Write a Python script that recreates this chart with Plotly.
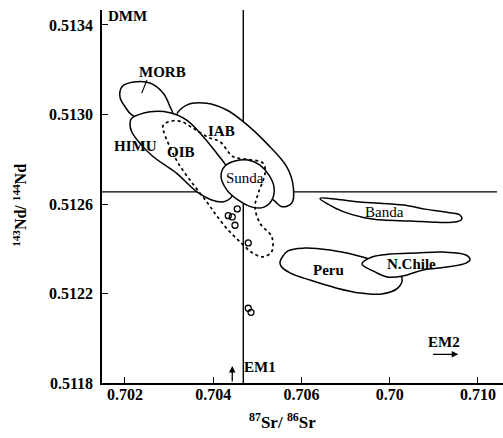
import plotly.graph_objects as go

# ---- axis / ticks ----
x_range = [0.701479, 0.710567]
y_range = [0.5118, 0.513467]
x_ticks = [0.702, 0.704, 0.706, 0.708, 0.710]
x_ticktext = ["0.702", "0.704", "0.706", "0.70", "0.710"]
y_ticks = [0.5118, 0.5122, 0.5126, 0.5130, 0.5134]
y_ticktext = ["0.5118", "0.5122", "0.5126", "0.5130", "0.5134"]

# DMM reference lines
dmm_sr = 0.704681
dmm_nd = 0.512654
hline_end = 0.710431

# ---- field outlines (87Sr/86Sr, 143Nd/144Nd) ----
morb_sr = [0.701887, 0.701932, 0.702188, 0.702567, 0.702868, 0.703020, 0.703081, 0.702793, 0.702567, 0.702152, 0.702000, 0.701887]
morb_nd = [0.513078, 0.513124, 0.513145, 0.513141, 0.513095, 0.513035, 0.512998, 0.512975, 0.512966, 0.512998, 0.513035, 0.513078]

iab_sr = [0.703172, 0.703398, 0.703852, 0.704305, 0.704681, 0.705211, 0.705664, 0.705814, 0.705778, 0.705551, 0.705361, 0.704946, 0.704266, 0.703586, 0.703246, 0.703172]
iab_nd = [0.512998, 0.513042, 0.513050, 0.513020, 0.512968, 0.512871, 0.512767, 0.512677, 0.512603, 0.512588, 0.512618, 0.512662, 0.512743, 0.512908, 0.512966, 0.512998]

himu_sr = [0.702113, 0.702152, 0.702567, 0.703020, 0.703398, 0.703774, 0.704078, 0.704305, 0.704493, 0.704418, 0.704228, 0.703965, 0.703625, 0.703172, 0.702641, 0.702340, 0.702152, 0.702113]
himu_nd = [0.512961, 0.512983, 0.513012, 0.513008, 0.512975, 0.512901, 0.512827, 0.512767, 0.512685, 0.512633, 0.512610, 0.512618, 0.512655, 0.512737, 0.512811, 0.512871, 0.512923, 0.512961]

sunda_sr = [0.704176, 0.704266, 0.704493, 0.704788, 0.705059, 0.705263, 0.705377, 0.705331, 0.705150, 0.704878, 0.704561, 0.704311, 0.704176]
sunda_nd = [0.512725, 0.512770, 0.512792, 0.512797, 0.512774, 0.512729, 0.512676, 0.512618, 0.512586, 0.512586, 0.512618, 0.512662, 0.512725]

oib_sr = [0.702868, 0.703058, 0.703285, 0.703548, 0.703888, 0.704153, 0.704454, 0.704758, 0.705134, 0.705173, 0.705021, 0.704946, 0.705059, 0.705325, 0.705325, 0.705134, 0.704908, 0.704606, 0.704305, 0.704040, 0.703852, 0.703530, 0.703208, 0.702981, 0.702868, 0.702868]
oib_nd = [0.512953, 0.512971, 0.512968, 0.512938, 0.512898, 0.512878, 0.512811, 0.512800, 0.512782, 0.512737, 0.512648, 0.512588, 0.512514, 0.512454, 0.512387, 0.512364, 0.512379, 0.512431, 0.512491, 0.512558, 0.512610, 0.512692, 0.512782, 0.512871, 0.512931, 0.512953]

banda_sr = [0.706419, 0.706798, 0.707251, 0.707779, 0.708307, 0.708837, 0.709365, 0.709592, 0.709631, 0.709517, 0.709064, 0.708459, 0.707854, 0.707401, 0.706947, 0.706571, 0.706419]
banda_nd = [0.512625, 0.512621, 0.512610, 0.512603, 0.512595, 0.512576, 0.512561, 0.512551, 0.512532, 0.512521, 0.512518, 0.512524, 0.512528, 0.512540, 0.512566, 0.512603, 0.512625]

peru_sr = [0.705513, 0.705694, 0.706079, 0.706646, 0.707212, 0.707598, 0.708051, 0.708278, 0.708187, 0.707824, 0.707326, 0.706782, 0.706193, 0.705739, 0.705535, 0.705513]
peru_nd = [0.512341, 0.512390, 0.512403, 0.512394, 0.512372, 0.512350, 0.512314, 0.512269, 0.512225, 0.512198, 0.512202, 0.512225, 0.512260, 0.512292, 0.512323, 0.512341]

nchile_sr = [0.707371, 0.707598, 0.708006, 0.708618, 0.709207, 0.709728, 0.709819, 0.709728, 0.709297, 0.708754, 0.708300, 0.707938, 0.707620, 0.707371]
nchile_nd = [0.512332, 0.512363, 0.512376, 0.512381, 0.512385, 0.512372, 0.512350, 0.512336, 0.512318, 0.512305, 0.512278, 0.512274, 0.512301, 0.512332]

# sample points (open circles)
pts_sr = [0.704545, 0.704341, 0.704431, 0.704493, 0.704794, 0.704794, 0.704856]
pts_nd = [0.512578, 0.512548, 0.512542, 0.512505, 0.512426, 0.512134, 0.512116]

# labels
labels = ["MORB", "HIMU", "OIB", "IAB", "Sunda", "Banda", "Peru", "N.Chile", "EM2"]
label_sr = [0.702861, 0.702249, 0.703269, 0.704176, 0.704720, 0.707870, 0.706623, 0.708504, 0.709230]
label_nd = [0.513190, 0.512859, 0.512832, 0.512926, 0.512714, 0.512564, 0.512305, 0.512332, 0.511983]
label_bold = [True, True, True, True, False, False, True, True, True]

dmm_label = ("DMM", 0.701569, 0.513440)
em1_label = ("EM1", 0.704652, 0.511872)
morb_leader_sr = [0.702499, 0.702378]
morb_leader_nd = [0.513154, 0.513095]
em1_arrow = (0.704431, 0.5118, 0.511876)
em2_arrow = (0.708950, 0.709553, 0.511928)

SERIF = "Liberation Serif, DejaVu Serif, serif"
fig = go.Figure()

# reference lines (below fields)
fig.add_trace(go.Scatter(x=[dmm_sr, dmm_sr], y=[y_range[0], y_range[1]], mode="lines",
                         line=dict(color="black", width=1.4), hoverinfo="skip"))
fig.add_trace(go.Scatter(x=[x_range[0], hline_end], y=[dmm_nd, dmm_nd], mode="lines",
                         line=dict(color="black", width=1.4), hoverinfo="skip"))

def field(xs, ys, dash="solid", fill=True):
    fig.add_trace(go.Scatter(
        x=xs, y=ys, mode="lines",
        line=dict(color="black", width=1.5 if dash == "solid" else 1.7, shape="spline", smoothing=1.0, dash=dash),
        fill="toself" if fill else None,
        fillcolor="white" if fill else None,
        hoverinfo="skip"))

field(morb_sr, morb_nd)
field(iab_sr, iab_nd)
field(himu_sr, himu_nd)
field(sunda_sr, sunda_nd)
field(oib_sr, oib_nd, dash="dot", fill=False)
field(banda_sr, banda_nd)
field(peru_sr, peru_nd)
field(nchile_sr, nchile_nd)

fig.add_trace(go.Scatter(x=pts_sr, y=pts_nd, mode="markers",
                         marker=dict(symbol="circle-open", size=6, color="black", line=dict(width=1.3)),
                         hoverinfo="skip"))

fig.add_trace(go.Scatter(x=morb_leader_sr, y=morb_leader_nd, mode="lines",
                         line=dict(color="black", width=1.1), hoverinfo="skip"))

for t, xs, ys, b in zip(labels, label_sr, label_nd, label_bold):
    fig.add_annotation(x=xs, y=ys, text=t, showarrow=False, xref="x", yref="y",
                       font=dict(family=SERIF, size=15, color="black", weight="bold" if b else "normal"))

fig.add_annotation(x=dmm_label[1], y=dmm_label[2], text=dmm_label[0], showarrow=False,
                   xanchor="left", font=dict(family=SERIF, size=15, color="black", weight="bold"))
fig.add_annotation(x=em1_label[1], y=em1_label[2], text=em1_label[0], showarrow=False,
                   xanchor="left", font=dict(family=SERIF, size=15, color="black", weight="bold"))

fig.add_annotation(x=em1_arrow[0], y=em1_arrow[2], ax=em1_arrow[0], ay=em1_arrow[1],
                   xref="x", yref="y", axref="x", ayref="y", showarrow=True, text="",
                   arrowhead=2, arrowsize=1, arrowwidth=1.3, arrowcolor="black")
fig.add_annotation(x=em2_arrow[1], y=em2_arrow[2], ax=em2_arrow[0], ay=em2_arrow[2],
                   xref="x", yref="y", axref="x", ayref="y", showarrow=True, text="",
                   arrowhead=2, arrowsize=1, arrowwidth=1.3, arrowcolor="black")

# axis titles
fig.add_annotation(x=-0.205, y=0.477, xref="paper", yref="paper", showarrow=False, textangle=-90,
                   xanchor="center", yanchor="middle",
                   text="<sup>143</sup>Nd/ <sup>144</sup>Nd",
                   font=dict(family=SERIF, size=16, color="black", weight="bold"))
fig.add_annotation(x=0.449, y=-0.102, xref="paper", yref="paper", showarrow=False,
                   xanchor="center", yanchor="middle",
                   text="<sup>87</sup>Sr/ <sup>86</sup>Sr",
                   font=dict(family=SERIF, size=17, color="black", weight="bold"))

axis_font = dict(family=SERIF, size=16, color="black", weight="bold")
fig.update_xaxes(range=x_range, tickvals=x_ticks, ticktext=x_ticktext, showgrid=False, zeroline=False,
                 showline=True, linecolor="black", linewidth=1.5, ticks="inside", ticklen=6,
                 tickcolor="black", tickwidth=1.2, tickfont=axis_font, ticklabelstandoff=-4)
fig.update_yaxes(range=y_range, tickvals=y_ticks, ticktext=y_ticktext, showgrid=False, zeroline=False,
                 showline=True, linecolor="black", linewidth=1.5, ticks="inside", ticklen=6,
                 tickcolor="black", tickwidth=1.2, tickfont=axis_font, ticklabelstandoff=4)

fig.update_layout(width=503, height=438, margin=dict(l=102, r=0, t=10, b=55),
                  plot_bgcolor="white", paper_bgcolor="white", showlegend=False)

fig.write_html("out.html")
